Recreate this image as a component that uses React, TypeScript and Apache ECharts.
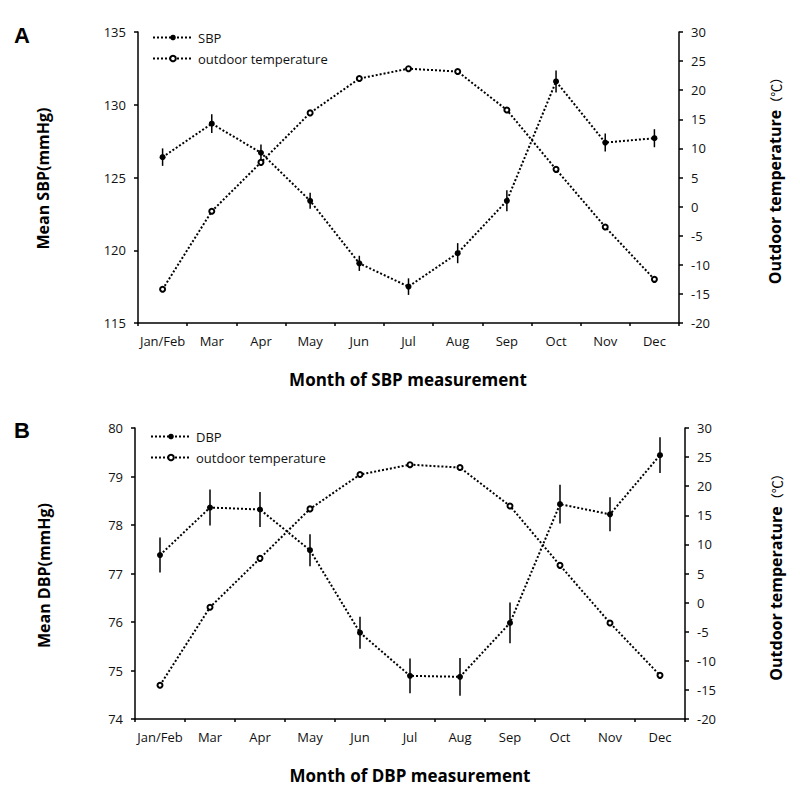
import React, { useEffect, useRef } from "react";
import * as echarts from "echarts";

const months = ["Jan/Feb", "Mar", "Apr", "May", "Jun", "Jul", "Aug", "Sep", "Oct", "Nov", "Dec"];
const sbpMean = [126.4, 128.7, 126.7, 123.4, 119.1, 117.5, 119.8, 123.4, 131.6, 127.4, 127.7];
const sbpErr = [0.6, 0.65, 0.57, 0.55, 0.52, 0.57, 0.69, 0.72, 0.75, 0.62, 0.62];
const dbpMean = [77.38, 78.36, 78.32, 77.48, 75.78, 74.89, 74.87, 75.98, 78.43, 78.22, 79.44];
const dbpErr = [0.36, 0.37, 0.36, 0.33, 0.33, 0.36, 0.39, 0.42, 0.4, 0.35, 0.37];
const tempA = [-14.2, -0.8, 7.6, 16.1, 22.0, 23.7, 23.2, 16.6, 6.4, -3.5, -12.5];
const tempB = [-14.2, -0.8, 7.6, 16.1, 22.0, 23.7, 23.2, 16.6, 6.4, -3.5, -12.5];

const FONT = '"Open Sans", "Noto Sans", sans-serif';
const BLACK = "#000";

function errData(mean: number[], err: number[]) {
  return mean.map((m, i) => [i, m - err[i], m + err[i]]);
}

const errRender = (params: any, api: any) => {
  const p1 = api.coord([api.value(0), api.value(1)]);
  const p2 = api.coord([api.value(0), api.value(2)]);
  return {
    type: "line",
    shape: { x1: p1[0], y1: p1[1], x2: p2[0], y2: p2[1] },
    style: { stroke: BLACK, lineWidth: 1.5 },
  };
};

function yAxisCfg(gridIndex: number, position: string, min: number, max: number, interval: number) {
  return {
    type: "value",
    gridIndex,
    position,
    min,
    max,
    interval,
    splitLine: { show: false },
    axisLine: { show: true, onZero: false, lineStyle: { color: BLACK, width: 1.5 } },
    axisTick: { show: true, inside: false, length: 4, lineStyle: { color: BLACK, width: 1.5 } },
    axisLabel: { color: "#111", fontSize: 13, fontFamily: FONT, margin: 12 },
  };
}

function xAxisCfg(gridIndex: number) {
  return {
    type: "category",
    gridIndex,
    data: months,
    boundaryGap: true,
    axisLine: { show: true, onZero: false, lineStyle: { color: BLACK, width: 1.5 } },
    axisTick: { show: true, inside: false, length: 3, interval: 0, lineStyle: { color: BLACK, width: 1.5 } },
    axisLabel: { color: "#111", fontSize: 13, fontFamily: FONT, margin: 11, interval: 0 },
  };
}

const lineStyle = { color: BLACK, width: 2, type: "dotted" };

function bpSeries(name: string, data: number[], xi: number, yi: number) {
  return {
    name,
    type: "line",
    xAxisIndex: xi,
    yAxisIndex: yi,
    data,
    symbol: "circle",
    symbolSize: 6,
    itemStyle: { color: BLACK },
    lineStyle,
    z: 3,
  };
}

function tempSeries(data: number[], xi: number, yi: number) {
  return {
    name: "outdoor temperature",
    type: "line",
    xAxisIndex: xi,
    yAxisIndex: yi,
    data,
    symbol: "emptyCircle",
    symbolSize: 5,
    itemStyle: { color: BLACK, borderWidth: 1 },
    lineStyle,
    z: 3,
  };
}

function errSeries(mean: number[], err: number[], xi: number, yi: number) {
  return {
    type: "custom",
    xAxisIndex: xi,
    yAxisIndex: yi,
    data: errData(mean, err),
    renderItem: errRender,
    z: 2,
    silent: true,
  };
}

function txt(x: number, y: number, text: string, size: number, rot = 0, family = FONT, weight = "bold") {
  return {
    type: "text",
    x,
    y,
    rotation: rot,
    style: {
      text,
      fill: BLACK,
      fontSize: size,
      fontWeight: weight,
      fontFamily: family,
      align: "center",
      verticalAlign: "middle",
    },
  };
}

function rightTitle(x: number, y: number) {
  return {
    type: "text",
    x,
    y,
    rotation: Math.PI / 2,
    style: {
      text: "{b|Outdoor temperature}{n|（℃）}",
      align: "center",
      verticalAlign: "middle",
      rich: {
        b: { fontSize: 16, fontWeight: "bold", fontFamily: FONT, fill: BLACK },
        n: { fontSize: 13, fontWeight: "normal", fontFamily: '"Noto Sans CJK SC", sans-serif', fill: BLACK },
      },
    },
  };
}

function legendCfg(left: number, top: number, bpName: string) {
  return {
    orient: "vertical",
    left,
    top,
    padding: 0,
    itemWidth: 40,
    itemHeight: 7,
    itemGap: 8,
    data: [bpName, "outdoor temperature"],
    textStyle: { color: "#111", fontSize: 13, fontFamily: FONT },
    selectedMode: false,
  };
}

export default function App() {
  const ref = useRef<HTMLDivElement>(null);
  useEffect(() => {
    document.body.style.margin = "0";
    const chart = echarts.init(ref.current!, null, { renderer: "svg" });
    chart.setOption({
      animation: false,
      backgroundColor: "#fff",
      grid: [
        { left: 138, top: 32, width: 541, height: 291 },
        { left: 135, top: 428, width: 550, height: 291 },
      ],
      xAxis: [xAxisCfg(0), xAxisCfg(1)],
      yAxis: [
        yAxisCfg(0, "left", 115, 135, 5),
        yAxisCfg(0, "right", -20, 30, 5),
        yAxisCfg(1, "left", 74, 80, 1),
        yAxisCfg(1, "right", -20, 30, 5),
      ],
      legend: [legendCfg(152, 31, "SBP"), legendCfg(150, 430, "DBP")],
      series: [
        errSeries(sbpMean, sbpErr, 0, 0),
        bpSeries("SBP", sbpMean, 0, 0),
        tempSeries(tempA, 0, 1),
        errSeries(dbpMean, dbpErr, 1, 2),
        bpSeries("DBP", dbpMean, 1, 2),
        tempSeries(tempB, 1, 3),
      ],
      graphic: [
        txt(22, 35, "A", 22, 0, '"Liberation Sans", Arial, sans-serif'),
        txt(22, 430, "B", 22, 0, '"Liberation Sans", Arial, sans-serif'),
        txt(43, 178.5, "Mean SBP(mmHg)", 16, Math.PI / 2),
        txt(44, 575.5, "Mean DBP(mmHg)", 16, Math.PI / 2),
        rightTitle(775, 177.5),
        rightTitle(776, 574),
        txt(408, 379, "Month of SBP measurement", 17),
        txt(410, 775, "Month of DBP measurement", 17),
      ],
    });
    return () => chart.dispose();
  }, []);
  return (
    <div
      ref={ref}
      style={{ position: "absolute", left: 0, top: 0, width: 800, height: 795, background: "#fff" }}
    />
  );
}
